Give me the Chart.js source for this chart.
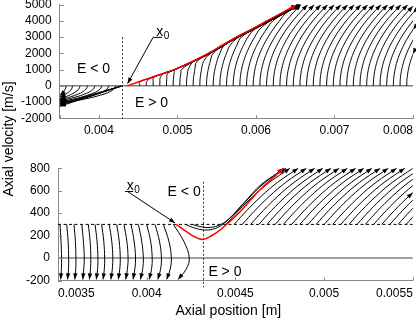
<!DOCTYPE html>
<html>
<head>
<meta charset="utf-8">
<script src="https://cdn.jsdelivr.net/npm/chart.js@4.4.1/dist/chart.umd.min.js"></script>
<style>
html, body { margin: 0; padding: 0; background: #fff; }
#wrap { position: relative; width: 416px; height: 318px; overflow: hidden; font-family: "Liberation Sans", Arial, sans-serif; }
#c1 { position: absolute; left: 0; top: 0; }
#c2 { position: absolute; left: 0; top: 150px; }
.ttl { position: absolute; font-size: 14px; line-height: 16px; height: 16px; text-align: center; white-space: nowrap; color: #000; }
#ytitle { left: -91.6px; top: 130.5px; width: 200px; transform: rotate(-90deg); }
#xtitle { left: 128.3px; top: 301.8px; width: 200px; }
</style>
</head>
<body>
<div id="wrap">
  <canvas id="c1" width="416" height="150"></canvas>
  <canvas id="c2" width="416" height="168"></canvas>
  <div class="ttl" id="ytitle">Axial velocity [m/s]</div>
  <div class="ttl" id="xtitle">Axial position [m]</div>
</div>
<script>
// ---- upper panel: ticks ----
const TOP_X_TICKS = [0.0035, 0.004, 0.005, 0.006, 0.007, 0.008];
const TOP_X_LABELS = ['', '0.004', '0.005', '0.006', '0.007', '0.008'];
const TOP_Y_TICKS = [-2000, -1000, 0, 1000, 2000, 3000, 4000, 5000];

// velocity levels shared by the right-hand trajectories (m/s)
const TOP_V_LEVELS = [0, 250, 500, 750, 1000, 1500, 2000, 2500, 3000, 3500, 4000, 4500, 5000];
// axial position of each trajectory at those velocity levels (m)
const TOP_RIGHT_X = [
  [.00452, .004521, .004666, .004813, .004959, .005188, .005396, .005571, .005749, .00595, .006144, .006335, .006526],
  [.004605, .004606, .004668, .004815, .004961, .00519, .005398, .005573, .005751, .005952, .006146, .006337, .006528],
  [.00469, .004691, .004695, .004818, .004964, .005193, .005401, .005576, .005754, .005955, .006149, .00634, .006531],
  [.004775, .004776, .00478, .00482, .004966, .005195, .005403, .005578, .005756, .005957, .006151, .006342, .006533],
  [.00486, .004861, .004865, .004872, .004969, .005198, .005406, .005581, .005759, .00596, .006154, .006345, .006536],
  [.004945, .004946, .00495, .004957, .004971, .0052, .005408, .005583, .005761, .005962, .006156, .006347, .006538],
  [.00503, .005031, .005035, .005042, .005051, .005203, .005411, .005586, .005764, .005965, .006159, .00635, .006541],
  [.005115, .005116, .00512, .005127, .005136, .005205, .005413, .005588, .005766, .005967, .006161, .006352, .006543],
  [.0052, .005201, .005205, .005212, .005221, .005247, .005416, .005591, .005769, .00597, .006164, .006355, .006546],
  [.005285, .005286, .00529, .005297, .005306, .005332, .005418, .005593, .005771, .005972, .006166, .006357, .006548],
  [.00537, .005371, .005375, .005382, .005391, .005417, .005454, .005596, .005774, .005975, .006169, .00636, .006551],
  [.005455, .005456, .00546, .005467, .005476, .005502, .005539, .005598, .005776, .005977, .006171, .006362, .006553],
  [.00554, .005541, .005545, .005552, .005561, .005587, .005624, .005671, .005779, .00598, .006174, .006365, .006556],
  [.005625, .005626, .00563, .005637, .005646, .005672, .005709, .005756, .005813, .005982, .006176, .006367, .006558],
  [.00571, .005711, .005715, .005722, .005731, .005757, .005794, .005841, .005898, .005985, .006179, .00637, .006561],
  [.005795, .005796, .0058, .005807, .005816, .005842, .005879, .005926, .005983, .006051, .006181, .006372, .006563],
  [.00588, .005881, .005885, .005892, .005901, .005927, .005964, .006011, .006068, .006136, .006214, .006375, .006566],
  [.005965, .005966, .00597, .005977, .005986, .006012, .006049, .006096, .006153, .006221, .006299, .006388, .006568],
  [.00605, .006051, .006055, .006062, .006071, .006097, .006134, .006181, .006238, .006306, .006384, .006473, .006572],
  [.006135, .006136, .00614, .006147, .006156, .006182, .006219, .006266, .006323, .006391, .006469, .006558, .006657],
  [.00622, .006221, .006225, .006232, .006241, .006267, .006304, .006351, .006408, .006476, .006554, .006643, .006742],
  [.006305, .006306, .00631, .006317, .006326, .006352, .006389, .006436, .006493, .006561, .006639, .006728, .006827],
  [.00639, .006391, .006395, .006402, .006411, .006437, .006474, .006521, .006578, .006646, .006724, .006813, .006912],
  [.006475, .006476, .00648, .006487, .006496, .006522, .006559, .006606, .006663, .006731, .006809, .006898, .006997],
  [.00656, .006561, .006565, .006572, .006581, .006607, .006644, .006691, .006748, .006816, .006894, .006983, .007082],
  [.006645, .006646, .00665, .006657, .006666, .006692, .006729, .006776, .006833, .006901, .006979, .007068, .007167],
  [.00673, .006731, .006735, .006742, .006751, .006777, .006814, .006861, .006918, .006986, .007064, .007153, .007252],
  [.006815, .006816, .00682, .006827, .006836, .006862, .006899, .006946, .007003, .007071, .007149, .007238, .007337],
  [.0069, .006901, .006905, .006912, .006921, .006947, .006984, .007031, .007088, .007156, .007234, .007323, .007422],
  [.006985, .006986, .00699, .006997, .007006, .007032, .007069, .007116, .007173, .007241, .007319, .007408, .007507],
  [.00707, .007071, .007075, .007082, .007091, .007117, .007154, .007201, .007258, .007326, .007404, .007493, .007592],
  [.007155, .007156, .00716, .007167, .007176, .007202, .007239, .007286, .007343, .007411, .007489, .007578, .007677],
  [.00724, .007241, .007245, .007252, .007261, .007287, .007324, .007371, .007428, .007496, .007574, .007663, .007762],
  [.007325, .007326, .00733, .007337, .007346, .007372, .007409, .007456, .007513, .007581, .007659, .007748, .007847],
  [.00741, .007411, .007415, .007422, .007431, .007457, .007494, .007541, .007598, .007666, .007744, .007833, .007932],
  [.007495, .007496, .0075, .007507, .007516, .007542, .007579, .007626, .007683, .007751, .007829, .007918, .008017],
  [.00758, .007581, .007585, .007592, .007601, .007627, .007664, .007711, .007768, .007836, .007914, .008003, .008102],
  [.007665, .007666, .00767, .007677, .007686, .007712, .007749, .007796, .007853, .007921, .007999, .008088, .008187],
  [.00775, .007751, .007755, .007762, .007771, .007797, .007834, .007881, .007938, .008006, .008084, .008173, .008272],
  [.007835, .007836, .00784, .007847, .007856, .007882, .007919, .007966, .008023, .008091, .008169, .008258, .008357],
  [.00792, .007921, .007925, .007932, .007941, .007967, .008004, .008051, .008108, .008176, .008254, .008343, .008442]
];
// trajectories leaving through the right border that still get an arrowhead
const TOP_EDGE_ARROWS = [35, 36, 38, 40];

const TOP_RED = [[.00436, 0], [.00466, 500], [.00496, 1000], [.00519, 1500], [.00539, 2000], [.00557, 2500],
  [.00575, 3000], [.00595, 3500], [.00614, 4000], [.00633, 4500], [.00652, 5000]];

const TOP_LEFT_CURVES = [
  [[.00358, 0], [.003575, -150], [.00356, -300], [.003535, -450], [.0035, -600]],
  [[.003663, 0], [.003653, -175], [.003622, -350], [.003571, -525], [.0035, -700]],
  [[.003759, 0], [.003743, -200], [.003694, -400], [.003613, -600], [.0035, -800]],
  [[.003854, 0], [.003832, -218], [.003766, -435], [.003655, -653], [.0035, -870]],
  [[.00395, 0], [.003922, -233], [.003838, -465], [.003697, -698], [.0035, -930]],
  [[.004039, 0], [.004005, -248], [.003904, -495], [.003736, -743], [.0035, -990]],
  [[.004128, 0], [.004089, -260], [.003971, -520], [.003775, -780], [.0035, -1040]],
  [[.004217, 0], [.004172, -273], [.004038, -545], [.003814, -818], [.0035, -1090]]
];
const TOP_LEFT_LINES = [
  [[.00428, -10], [.0035, -1130]],
  [[.004285, -15], [.0035, -1200]],
  [[.00429, -20], [.0035, -1260]]
];
const TOP_DIVIDER = [[.0043, 3000], [.0043, -2050]];
const TOP_X0_UNDER = [[.004689, 2988], [.004803, 2988]];
const TOP_X0_ARROW = [[.004689, 2988], [.004364, 135]];

// ---- lower panel ----
const BOT_X_TICKS = [0.0035, 0.004, 0.0045, 0.005, 0.0055];
const BOT_X_LABELS = ['0.0035', '0.004', '0.0045', '0.005', '0.0055'];
const BOT_Y_TICKS = [-200, 0, 200, 400, 600, 800];

const BOT_LEFT_V = [300, 150, 0, -100, -190];
const BOT_LEFT_X = [
  [.003511, .003517, .00352, .003519, .003515],
  [.003549, .003557, .00356, .003559, .003554],
  [.00359, .003598, .003601, .0036, .003595],
  [.003634, .003643, .003648, .003645, .00364],
  [.003671, .003681, .003685, .003683, .003677],
  [.003709, .00372, .003725, .003723, .003716],
  [.003746, .003758, .003763, .003761, .003754],
  [.003789, .003803, .003809, .003806, .003798],
  [.003831, .003845, .003851, .003848, .00384],
  [.003872, .003888, .003895, .003891, .003882],
  [.003912, .003929, .003937, .003933, .003923],
  [.003953, .003972, .003981, .003977, .003965],
  [.004, .004022, .004031, .004027, .004014],
  [.004047, .004072, .004083, .004078, .004063],
  [.004094, .004125, .004139, .004132, .004113],
  [.00415, .004209, .00424, .004222, .004177]
];

const BOT_RIGHT_V = [300, 425, 550, 675, 800];
const BOT_RIGHT_X = [
  [.004447, .004519, .004599, .004692, .004808],
  [.004493, .004565, .004645, .004738, .004854],
  [.004539, .004611, .004691, .004784, .0049],
  [.004586, .004658, .004738, .004831, .004947],
  [.004632, .004704, .004784, .004877, .004993],
  [.004678, .00475, .00483, .004923, .005039],
  [.004724, .004796, .004876, .004969, .005085],
  [.00477, .004842, .004922, .005015, .005131],
  [.004817, .004889, .004969, .005062, .005178],
  [.004863, .004935, .005015, .005108, .005224],
  [.004909, .004981, .005061, .005154, .00527],
  [.004955, .005027, .005107, .0052, .005316],
  [.005001, .005073, .005153, .005246, .005362],
  [.005048, .00512, .0052, .005293, .005409],
  [.005094, .005166, .005246, .005339, .005455],
  [.00514, .005212, .005292, .005385, .005501],
  [.005186, .005258, .005338, .005431, .005547],
  [.005232, .005304, .005384, .005477, .005593],
  [.005279, .005351, .005431, .005524, .00564],
  [.005325, .005397, .005477, .00557, .005686],
  [.005371, .005443, .005523, .005616, .005732],
  [.005417, .005489, .005569, .005662, .005778],
  [.005463, .005535, .005615, .005708, .005824]
];
const BOT_EDGE_ARROWS = [15, 19];

const BOT_RED = [[.004165, 300], [.004216, 245], [.004272, 188], [.004317, 165], [.004368, 201],
  [.004424, 263], [.004526, 413], [.004639, 608], [.004772, 800]];
const BOT_BLACK = [
  [[.004216, 300], [.004272, 267], [.004329, 250], [.004385, 263], [.004441, 316], [.004526, 449], [.004639, 635], [.00477, 800]],
  [[.004255, 300], [.0043, 281], [.004346, 272], [.004402, 289], [.004458, 342], [.004543, 484], [.00465, 661], [.004785, 800]]
];
const BOT_THRESHOLD = [[.0035, 300], [.0055, 300]];
const BOT_DIVIDER = [[.00432, 680], [.00432, -260]];
const BOT_X0_UNDER = [[.003878, 593], [.003924, 593]];
const BOT_X0_ARROW = [[.003895, 590], [.00416, 313]];

const FONT = '"Liberation Sans", Arial, sans-serif';

function curve(points, opt) {
  return Object.assign({
    data: points, borderColor: '#000', borderWidth: 1, pointRadius: 0,
    tension: 0.4, fill: false, order: 5
  }, opt || {});
}

function arrowHead(ctx, tx, ty, fx, fy, color) {
  const a = Math.atan2(ty - fy, tx - fx), L = 6, W = 2.2;
  const c = Math.cos(a), s = Math.sin(a);
  ctx.fillStyle = color;
  ctx.beginPath();
  ctx.moveTo(tx, ty);
  ctx.lineTo(tx - L * c + W * s, ty - L * s - W * c);
  ctx.lineTo(tx - L * c - W * s, ty - L * s + W * c);
  ctx.closePath();
  ctx.fill();
}

// inward tick marks, arrowheads and the text labels inside the plot
function decoPlugin(labels) {
  return {
    id: 'deco',
    afterDatasetsDraw(chart) {
      const ctx = chart.ctx, area = chart.chartArea;
      const sx = chart.scales.x, sy = chart.scales.y;
      ctx.save();
      ctx.strokeStyle = '#888';
      ctx.lineWidth = 1;
      ctx.beginPath();
      sx.ticks.forEach(t => {
        const p = Math.round(sx.getPixelForValue(t.value)) + 0.5;
        ctx.moveTo(p, area.bottom); ctx.lineTo(p, area.bottom - 3);
      });
      sy.ticks.forEach(t => {
        const p = Math.round(sy.getPixelForValue(t.value)) + 0.5;
        ctx.moveTo(area.left, p); ctx.lineTo(area.left + 4, p);
      });
      ctx.stroke();

      chart.data.datasets.forEach((ds, i) => {
        if (!ds.arrow) return;
        const pts = chart.getDatasetMeta(i).data;
        let last = null;
        for (let j = 0; j < pts.length; j++) {
          const p = pts[j];
          if (!isFinite(p.x) || !isFinite(p.y)) break;
          if (p.x > area.right + 0.5) {
            if (ds.arrow === 'edge' && j > 0) {
              const q = pts[j - 1];
              const t = (area.right - q.x) / (p.x - q.x);
              arrowHead(ctx, area.right, q.y + t * (p.y - q.y), q.x, q.y, ds.borderColor);
            }
            return;
          }
          last = j;
        }
        if (last === null || last === 0 || ds.arrow !== 'end') return;
        const p = pts[last], q = pts[last - 1];
        arrowHead(ctx, p.x, p.y, q.x, q.y, ds.borderColor);
      });

      ctx.fillStyle = '#000';
      labels.forEach(l => {
        const px = sx.getPixelForValue(l.x), py = sy.getPixelForValue(l.y);
        ctx.font = '14px ' + FONT;
        ctx.textAlign = l.sub ? 'left' : 'center';
        ctx.textBaseline = l.sub ? 'alphabetic' : 'middle';
        ctx.fillText(l.text, px, py);
        if (l.sub) {
          const w = ctx.measureText(l.text).width;
          ctx.font = '10px ' + FONT;
          ctx.fillText(l.sub, px + w + 0.5, py + 3);
        }
      });
      ctx.restore();
    }
  };
}

function axes(xr, xt, xl, yr, yt, xAxisH, yAxisW) {
  return {
    x: {
      type: 'linear', min: xr[0], max: xr[1],
      afterBuildTicks: s => { s.ticks = xt.map(v => ({ value: v })); },
      afterFit: s => { s.height = xAxisH; s.paddingLeft = 0; s.paddingRight = 0; },
      grid: { display: false, drawTicks: false },
      border: { display: true, color: '#888', width: 1 },
      ticks: { autoSkip: false, maxRotation: 0, align: 'inner', padding: 5.5, color: '#000',
        font: { family: FONT, size: 12 }, callback: (v, i) => xl[i] }
    },
    y: {
      type: 'linear', min: yr[0], max: yr[1],
      afterBuildTicks: s => { s.ticks = yt.map(v => ({ value: v })); },
      afterFit: s => { s.width = yAxisW; s.paddingTop = 0; s.paddingBottom = 0; },
      grid: { display: false, drawTicks: false },
      border: { display: true, color: '#888', width: 1 },
      ticks: { autoSkip: false, padding: 8, color: '#000',
        font: { family: FONT, size: 12 }, callback: v => String(v) }
    }
  };
}

function baseOptions(padTop, padRight, scales) {
  return {
    responsive: false, animation: false, events: [],
    layout: { padding: { top: padTop, right: padRight, bottom: 0, left: 0 } },
    plugins: { legend: { display: false }, tooltip: { enabled: false } },
    scales: scales
  };
}

// ---- upper chart ----
const topSets = [];
topSets.push(curve([[0.0035, 0], [0.008, 0]], { borderColor: '#808080', borderWidth: 1.5, tension: 0, order: 20 }));
topSets.push(curve(TOP_DIVIDER, { borderColor: '#333', borderDash: [2, 2], tension: 0, clip: false, order: 19 }));
TOP_LEFT_CURVES.forEach(c => topSets.push(curve(c, { arrow: 'end' })));
TOP_LEFT_LINES.forEach(c => topSets.push(curve(c, { tension: 0, arrow: 'end' })));
TOP_RIGHT_X.forEach((row, k) => {
  const pts = row.map((x, i) => [x, TOP_V_LEVELS[i]]);
  const inside = row[row.length - 1] <= 0.008;
  topSets.push(curve(pts, { arrow: inside ? 'end' : (TOP_EDGE_ARROWS.includes(k) ? 'edge' : null) }));
});
topSets.push(curve(TOP_RED, { borderColor: '#ff0000', borderWidth: 1.5, order: 1, arrow: 'end' }));
topSets.push(curve(TOP_X0_UNDER, { tension: 0, order: 0, clip: false }));
topSets.push(curve(TOP_X0_ARROW, { tension: 0, order: 0, arrow: 'end' }));

new Chart(document.getElementById('c1'), {
  type: 'line',
  data: { datasets: topSets },
  options: baseOptions(4.7, 3, axes([0.0035, 0.008], TOP_X_TICKS, TOP_X_LABELS, [-2000, 5000], TOP_Y_TICKS, 31.7, 59.7)),
  plugins: [decoPlugin([
    { x: 0.00393, y: 1025, text: 'E < 0' },
    { x: 0.004669, y: -1061, text: 'E > 0' },
    { x: 0.004729, y: 3080, text: 'x', sub: '0' }
  ])]
});

// ---- lower chart ----
const botSets = [];
botSets.push(curve([[0.0035, 0], [0.0055, 0]], { borderColor: '#808080', borderWidth: 1.5, tension: 0, order: 20 }));
botSets.push(curve(BOT_DIVIDER, { borderColor: '#333', borderDash: [2, 2], tension: 0, clip: false, order: 19 }));
botSets.push(curve(BOT_THRESHOLD, { borderDash: [3, 2.5], tension: 0, order: 18 }));
BOT_LEFT_X.forEach(row => botSets.push(curve(row.map((x, i) => [x, BOT_LEFT_V[i]]), { arrow: 'end' })));
BOT_RIGHT_X.forEach((row, k) => {
  const pts = row.map((x, i) => [x, BOT_RIGHT_V[i]]);
  const inside = row[row.length - 1] <= 0.0055;
  botSets.push(curve(pts, { arrow: inside ? 'end' : (BOT_EDGE_ARROWS.includes(k) ? 'edge' : null) }));
});
BOT_BLACK.forEach(c => botSets.push(curve(c, { order: 2, arrow: 'end' })));
botSets.push(curve(BOT_RED, { borderColor: '#ff0000', borderWidth: 1.5, order: 1, arrow: 'end' }));
botSets.push(curve(BOT_X0_UNDER, { tension: 0, order: 0 }));
botSets.push(curve(BOT_X0_ARROW, { tension: 0, order: 0, arrow: 'end' }));

new Chart(document.getElementById('c2'), {
  type: 'line',
  data: { datasets: botSets },
  options: baseOptions(18.3, 3.2, axes([0.0035, 0.0055], BOT_X_TICKS, BOT_X_LABELS, [-200, 800], BOT_Y_TICKS, 37.5, 58)),
  plugins: [decoPlugin([
    { x: 0.004211, y: 586, text: 'E < 0' },
    { x: 0.004441, y: -122, text: 'E > 0' },
    { x: 0.003887, y: 608, text: 'x', sub: '0' }
  ])]
});
</script>
</body>
</html>
